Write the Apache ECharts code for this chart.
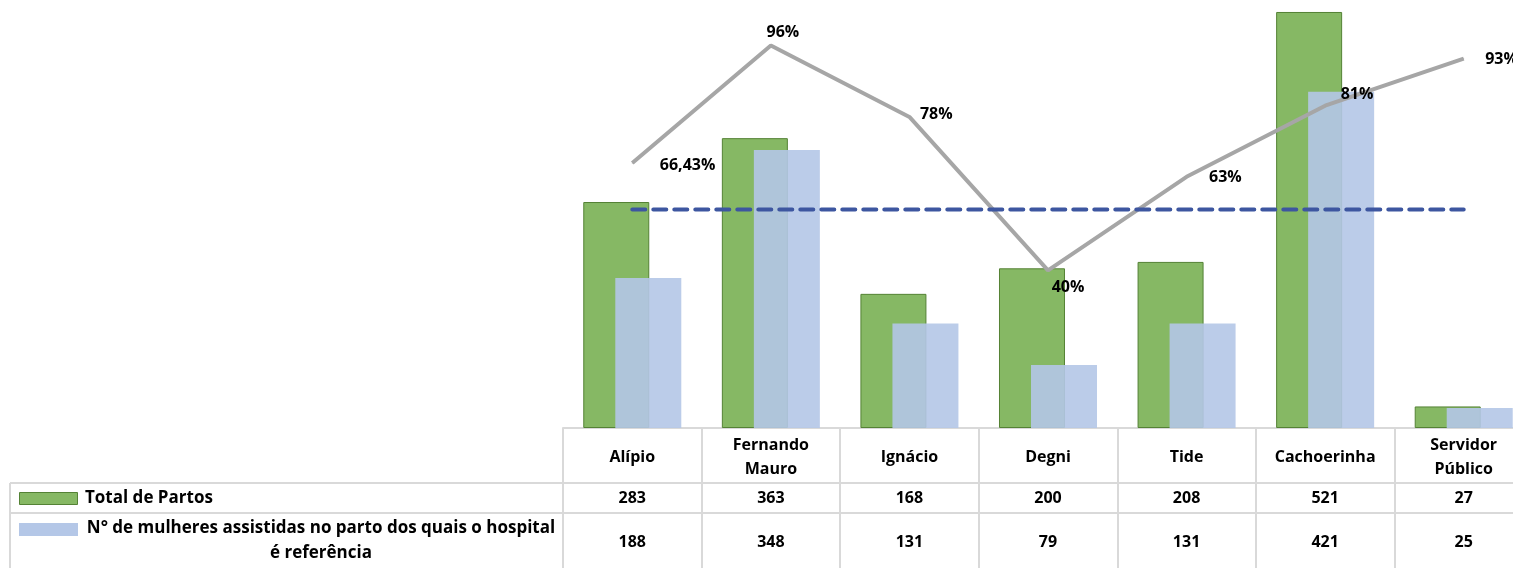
<!DOCTYPE html>
<html>
<head>
<meta charset="utf-8">
<script src="https://cdn.jsdelivr.net/npm/echarts@6/dist/echarts.min.js"></script>
<style>
  html, body { margin: 0; padding: 0; background: #fff; overflow: hidden; }
  #chart { width: 1533px; height: 568px; }
</style>
</head>
<body>
<div id="chart"></div>
<script>
// dados
var categories = ["Alípio", "Fernando\nMauro", "Ignácio", "Degni", "Tide", "Cachoerinha", "Servidor\nPúblico"];
var seriesNames = ["Total de Partos", "N° de mulheres assistidas no parto dos quais o hospital\né referência"];
var totalPartos = [283, 363, 168, 200, 208, 521, 27];
var referencia = [188, 348, 131, 79, 131, 421, 25];
var percentual = [66.43, 95.87, 77.98, 39.5, 62.98, 80.81, 92.59];
var percentualLabels = ["66,43%", "96%", "78%", "40%", "63%", "81%", "93%"];
var linhaMedia = [54.8, 54.8, 54.8, 54.8, 54.8, 54.8, 54.8];

// posição dos rótulos da linha (estilo, não dados)
var labelPlace = [
  { position: "right", distance: 27, offset: [0, 2] },
  { position: "top", distance: 5, offset: [12, 0] },
  { position: "right", distance: 10, offset: [0, -3] },
  { position: "bottom", distance: 8, offset: [20, 0] },
  { position: "right", distance: 22, offset: [0, 1] },
  { position: "right", distance: 15, offset: [0, -11] },
  { position: "right", distance: 21, offset: [0, 1] },
];

var FONT = "Open Sans";
var FS = 16;
var FS_LEGENDA = 17;
var GRID_LEFT = 563;
var GRID_W = 970;
var BASE = 428;
var tableColor = "#d9d9d9";

var myChart = echarts.init(document.getElementById("chart"));

function valueAxis(valores, margin) {
  return {
    type: "category",
    gridIndex: 0,
    position: "bottom",
    data: categories,
    axisLine: { show: false },
    axisTick: { show: false },
    axisLabel: {
      interval: 0,
      margin: margin,
      verticalAlign: "middle",
      fontFamily: FONT,
      fontWeight: "bold",
      fontSize: FS,
      color: "#000",
      formatter: function (v, i) { return String(valores[i]); },
    },
  };
}

var option = {
  animation: false,
  textStyle: { fontFamily: FONT },
  grid: { left: GRID_LEFT, top: 0, width: GRID_W, height: BASE },
  xAxis: [
    {
      type: "category",
      data: categories,
      axisLine: { lineStyle: { color: tableColor, width: 2 } },
      axisTick: { show: true, length: 140, lineStyle: { color: tableColor, width: 2 } },
      axisLabel: {
        interval: 0,
        margin: 29,
        verticalAlign: "middle",
        lineHeight: 24,
        fontFamily: FONT,
        fontWeight: "bold",
        fontSize: FS,
        color: "#000",
      },
    },
    valueAxis(totalPartos, 70),
    valueAxis(referencia, 114),
  ],
  yAxis: [
    { type: "value", min: 0, max: 536, show: false },
    { type: "value", min: 0, max: 107.3, show: false },
  ],
  series: [
    {
      name: seriesNames[0],
      type: "bar",
      data: totalPartos,
      barWidth: 66,
      barGap: "-51.5%",
      itemStyle: { color: "#86b864", borderColor: "#548235", borderWidth: 1 },
    },
    {
      name: seriesNames[1],
      type: "bar",
      data: referencia,
      barWidth: 66,
      itemStyle: { color: "#b4c7e7", opacity: 0.9 },
    },
    {
      name: "Percentual",
      type: "line",
      yAxisIndex: 1,
      data: percentual.map(function (v, i) {
        return { value: v, label: labelPlace[i] };
      }),
      symbol: "circle",
      symbolSize: 1,
      itemStyle: { color: "#a6a6a6" },
      lineStyle: { color: "#a6a6a6", width: 4 },
      label: {
        show: true,
        fontFamily: FONT,
        fontWeight: "bold",
        fontSize: FS,
        color: "#000",
        formatter: function (p) { return percentualLabels[p.dataIndex]; },
      },
      z: 5,
    },
    {
      name: "Média",
      type: "line",
      yAxisIndex: 1,
      data: linhaMedia,
      symbol: "none",
      lineStyle: { color: "#3d56a0", width: 4, type: [13, 8], cap: "round" },
      z: 6,
    },
  ],
  graphic: [
    { type: "line", shape: { x1: 10, y1: 483, x2: 1533, y2: 483 }, style: { stroke: tableColor, lineWidth: 2 } },
    { type: "line", shape: { x1: 10, y1: 513, x2: 1533, y2: 513 }, style: { stroke: tableColor, lineWidth: 2 } },
    { type: "line", shape: { x1: 10, y1: 483, x2: 10, y2: 568 }, style: { stroke: tableColor, lineWidth: 2 } },
    { type: "rect", shape: { x: 19.5, y: 492.5, width: 58, height: 12 }, style: { fill: "#86b864", stroke: "#548235", lineWidth: 1 } },
    { type: "rect", shape: { x: 19, y: 523, width: 59, height: 13 }, style: { fill: "#b4c7e7" } },
    {
      type: "text", x: 85, y: 498,
      style: { text: seriesNames[0], fill: "#000", font: "bold " + FS_LEGENDA + "px '" + FONT + "'", textVerticalAlign: "middle" },
    },
    {
      type: "text", x: 321, y: 541,
      style: {
        text: seriesNames[1], fill: "#000", font: "bold " + FS_LEGENDA + "px '" + FONT + "'",
        textAlign: "center", textVerticalAlign: "middle", lineHeight: 25,
      },
    },
  ],
};

myChart.setOption(option);
</script>
</body>
</html>
